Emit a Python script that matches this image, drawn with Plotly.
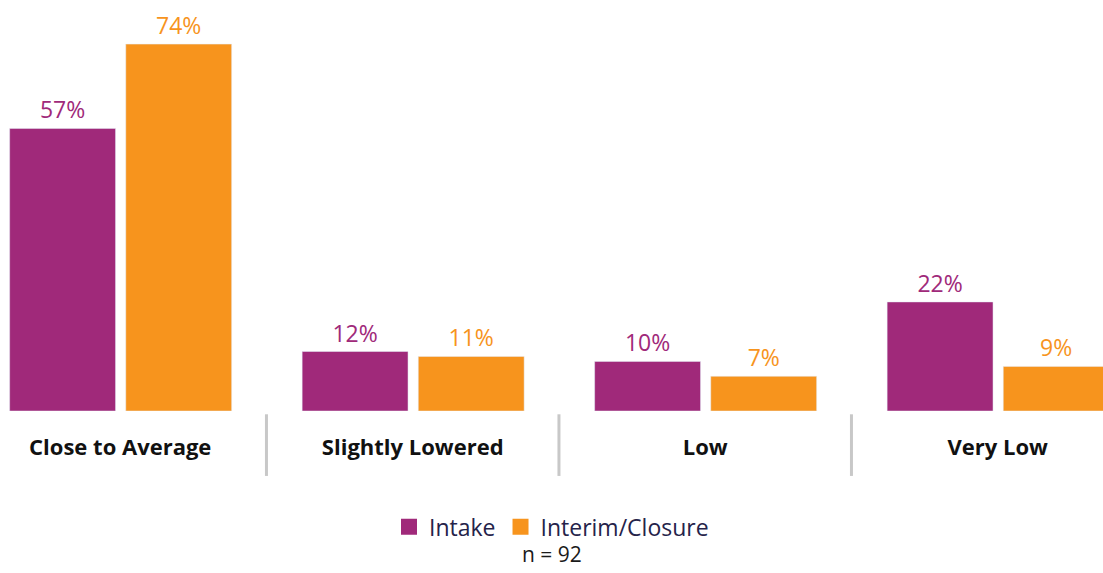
import plotly.graph_objects as go

categories = ["Close to Average", "Slightly Lowered", "Low", "Very Low"]
intake = [57, 12, 10, 22]
interim = [74, 11, 7, 9]
series_names = ["Intake", "Interim/Closure"]
colors = ["#A0297A", "#F7941D"]
sample_note = "n = 92"

FONT = "Open Sans"

fig = go.Figure()
fig.add_trace(go.Bar(
    x=categories, y=intake, name=series_names[0], marker_color=colors[0],
    width=0.362, offset=-0.378,
    text=[f"{v}%" for v in intake], textposition="outside",
    textfont=dict(color=colors[0], size=23, family=FONT),
    cliponaxis=False, showlegend=False,
))
fig.add_trace(go.Bar(
    x=categories, y=interim, name=series_names[1], marker_color=colors[1],
    width=0.362, offset=0.019,
    text=[f"{v}%" for v in interim], textposition="outside",
    textfont=dict(color=colors[1], size=23, family=FONT),
    cliponaxis=False, showlegend=False,
))
# legend entries with larger square swatches
for name, c in zip(series_names, colors):
    fig.add_trace(go.Scatter(
        x=[None], y=[None], mode="markers", name=name,
        marker=dict(symbol="square", size=18, color=c),
    ))

# separators between categories
for i in range(len(categories) - 1):
    fig.add_shape(type="line", xref="x", yref="paper",
                  x0=i + 0.5, x1=i + 0.5, y0=-0.008, y1=-0.158,
                  line=dict(color="#C8C8C8", width=3))

fig.add_annotation(text=sample_note, xref="paper", yref="paper",
                   x=0.5, y=-0.349, yanchor="middle", showarrow=False,
                   font=dict(size=21, color="#1a1a1a", family=FONT),
                   borderpad=0)

fig.update_layout(
    width=1103, height=573,
    margin=dict(l=0, r=0, t=0, b=162),
    paper_bgcolor="white", plot_bgcolor="white",
    barmode="group",
    font=dict(family=FONT),
    xaxis=dict(range=[-0.411, 3.360], showgrid=False, zeroline=False,
               showline=False, ticks="",
               tickfont=dict(size=22, color="#111111", family=FONT, weight="bold"),
               ticklabelstandoff=21),
    yaxis=dict(range=[0, 82.9], visible=False),
    legend=dict(orientation="h", x=0.5, xanchor="center", y=-0.282, yanchor="middle",
                font=dict(size=23, color="#25234A", family=FONT),
                itemwidth=30, tracegroupgap=0),
)

fig.write_html("out.html")
